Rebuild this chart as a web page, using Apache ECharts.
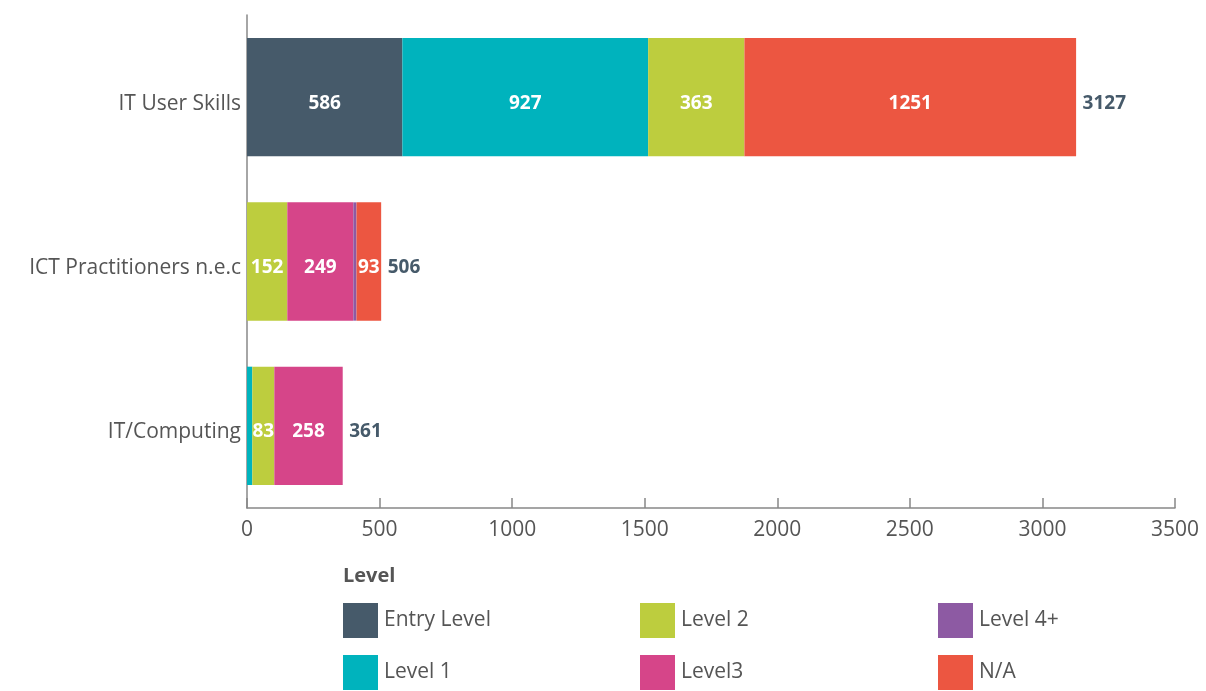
<!DOCTYPE html>
<html><head><meta charset="utf-8">
<script src="https://cdn.jsdelivr.net/npm/echarts@6/dist/echarts.min.js"></script>
<style>html,body{margin:0;padding:0;background:#fff}#c{width:1206px;height:691px}</style>
</head><body><div id="c"></div>
<script>
const categories = ['IT/Computing', 'ICT Practitioners n.e.c', 'IT User Skills'];
const seriesNames = ['Entry Level', 'Level 1', 'Level 2', 'Level3', 'Level 4+', 'N/A'];
const entryLevel = [0, 0, 586];
const level1 = [20, 0, 927];
const level2 = [83, 152, 363];
const level3 = [258, 249, 0];
const level4 = [0, 12, 0];
const na = [0, 93, 1251];
const xTicks = [0, 500, 1000, 1500, 2000, 2500, 3000, 3500];
const colors = ['#465A6A', '#00B3BD', '#BDCD3E', '#D64589', '#8D5AA3', '#EC5641'];

const values = [entryLevel, level1, level2, level3, level4, na];
const totals = categories.map((_, i) => values.reduce((s, a) => s + a[i], 0));
const FONT = '"Open Sans", sans-serif';

const barSeries = seriesNames.map((n, k) => ({
  name: n, type: 'bar', stack: 'all', barCategoryGap: '28%',
  itemStyle: { color: colors[k] },
  label: {
    show: true, position: 'inside', offset: [0, 6], color: '#fff', fontFamily: FONT,
    fontWeight: 'bold', fontSize: 19,
    formatter: p => (p.value >= 50 ? String(p.value) : '')
  },
  data: values[k]
}));

const totalSeries = {
  name: 'Total', type: 'scatter', symbolSize: 1, silent: true,
  itemStyle: { color: 'rgba(0,0,0,0)' },
  label: { show: true, position: 'right', distance: 6, offset: [0, 6], color: '#465A6A', opacity: 1,
    fontFamily: FONT, fontWeight: 'bold', fontSize: 19, formatter: p => String(p.value[0]) },
  data: totals.map((t, i) => [t, categories[i]])
};

// legend layout: 3 columns x 2 rows, column-major order
const colLeft = [343, 640, 938];
const rowTop = [603, 655];
const legends = seriesNames.map((n, k) => ({
  data: [n], icon: 'rect', itemWidth: 35, itemHeight: 35, padding: 0,
  left: colLeft[Math.floor(k / 2)], top: rowTop[k % 2], selectedMode: false,
  textStyle: { color: '#555', fontFamily: FONT, fontSize: 21, padding: [0, 0, 0, 1] }
}));

const chart = echarts.init(document.getElementById('c'));
chart.setOption({
  animation: false,
  color: colors,
  title: { text: 'Level', left: 338, top: 561, textStyle: { color: '#555', fontFamily: FONT, fontWeight: 'bold', fontSize: 20 } },
  legend: legends,
  grid: { left: 247, right: 31, top: 15, bottom: 183, containLabel: false },
  xAxis: {
    type: 'value', min: 0, max: 3500, interval: 500,
    axisLine: { show: true, lineStyle: { color: '#888', width: 1.5 } },
    axisTick: { show: true, inside: true, length: 10, lineStyle: { color: '#888', width: 1.5 } },
    splitLine: { show: false },
    axisLabel: { color: '#555', fontFamily: FONT, fontSize: 21, margin: 12,
      formatter: v => (xTicks.includes(v) ? String(v) : '') }
  },
  yAxis: {
    type: 'category', data: categories,
    axisLine: { show: true, lineStyle: { color: '#888', width: 1.5 } },
    axisTick: { show: false },
    axisLabel: { margin: 6, formatter: v => '{a|' + v + '}',
      rich: { a: { color: '#555', fontFamily: FONT, fontSize: 21, padding: [13, 0, 0, 0] } } }
  },
  series: barSeries.concat([totalSeries])
});
</script></body></html>
